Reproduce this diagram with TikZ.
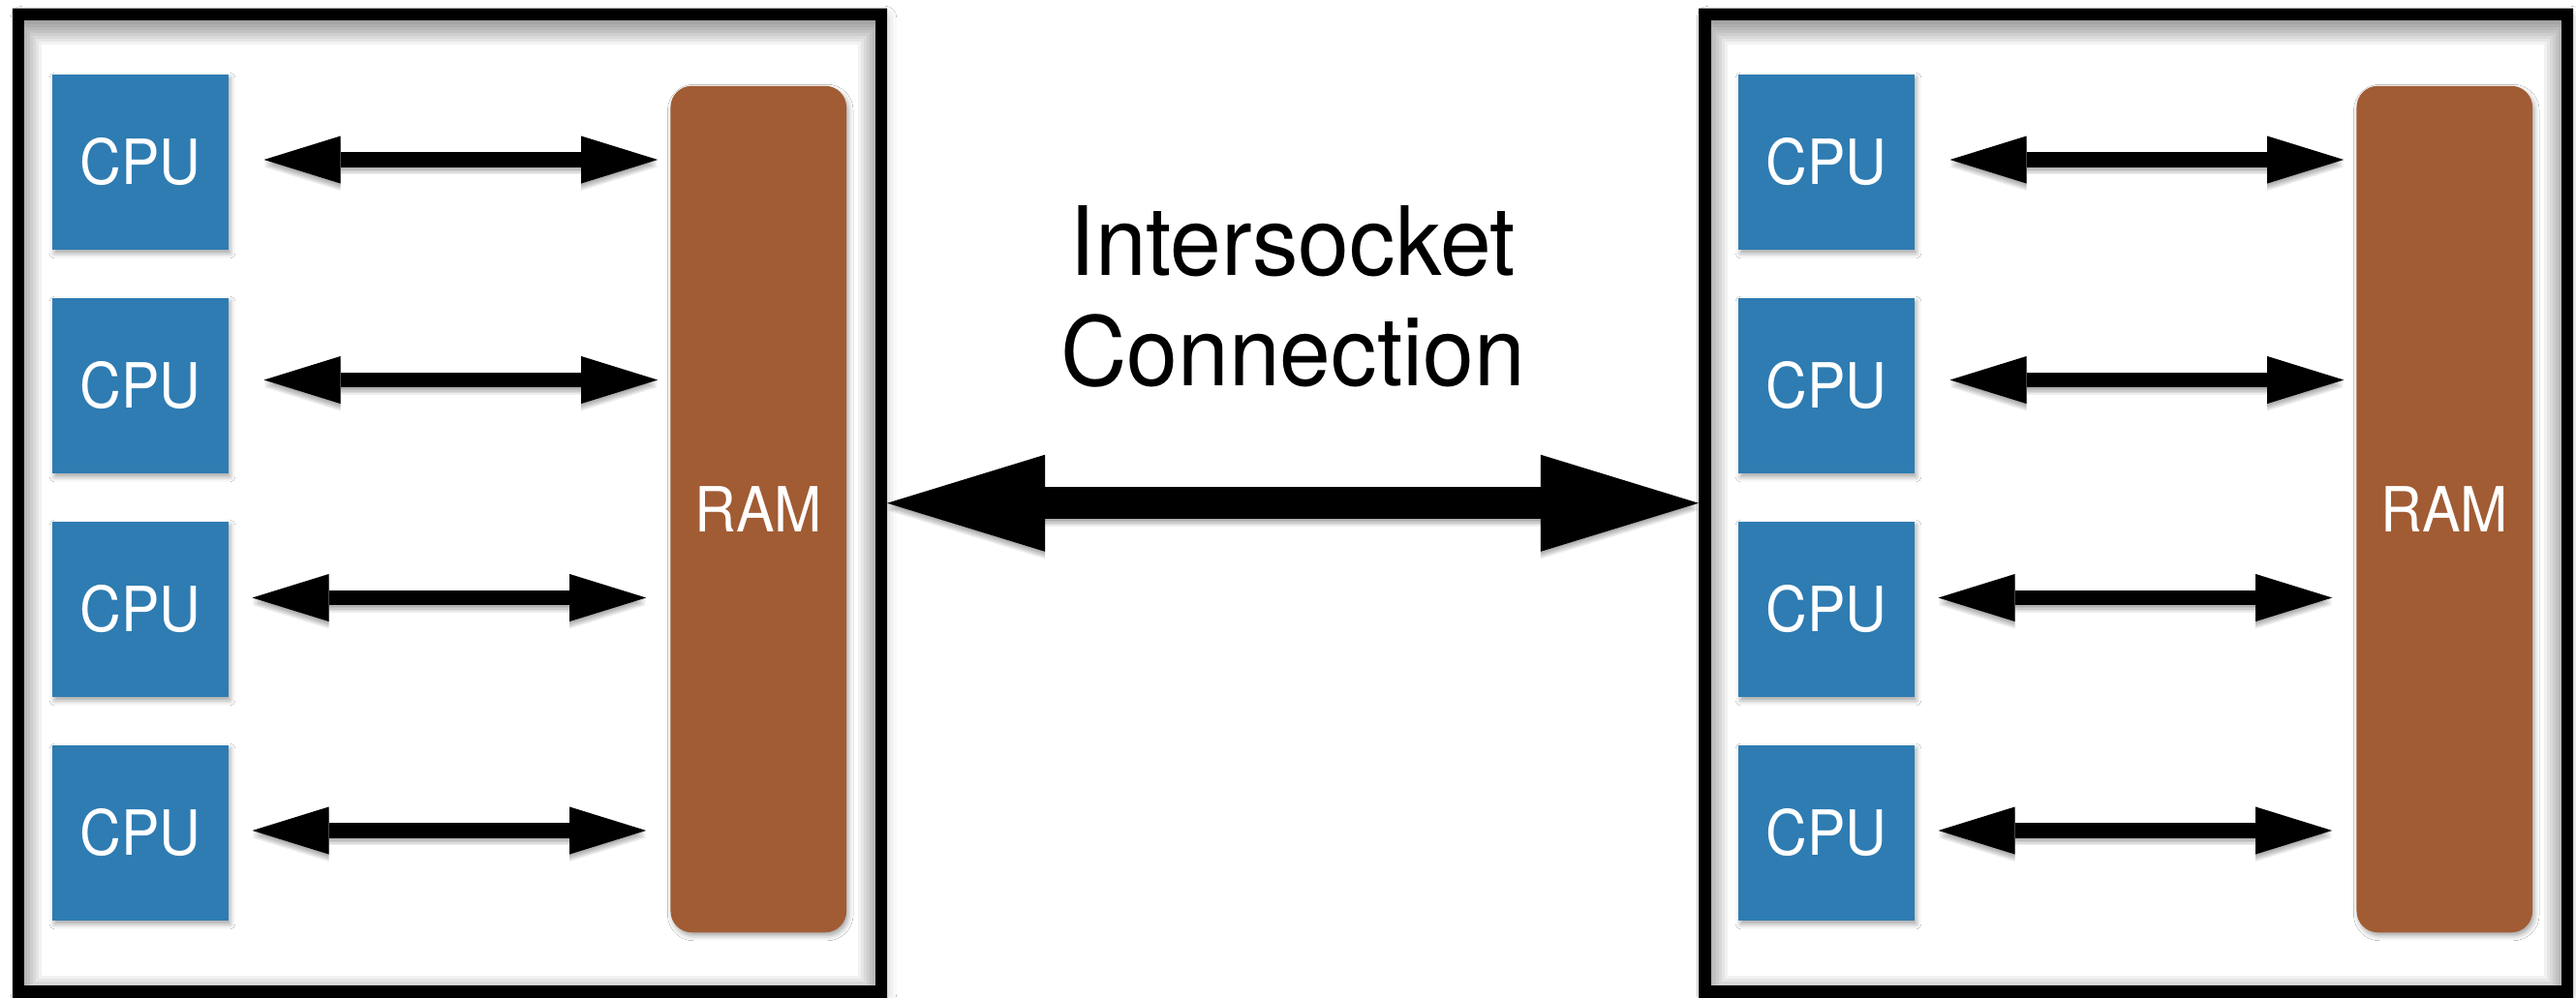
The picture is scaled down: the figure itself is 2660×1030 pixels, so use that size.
\documentclass[tikz,border=0pt]{standalone}
\usepackage{fontspec}
\newfontfamily\helvbox{TeX Gyre Heros}[FakeStretch=0.92]
\newfontfamily\helvtitle{TeX Gyre Heros}[FakeStretch=0.96]
\usetikzlibrary{arrows.meta,calc,shadows.blur}

\definecolor{cpublue}{RGB}{46,124,178}
\definecolor{ramsienna}{RGB}{161,92,52}

\tikzset{
  socket/.style={draw=black, fill=white, line width=0.125cm,
    minimum width=8.9cm, minimum height=10.085cm, inner sep=0pt,
    blur shadow={shadow xshift=0.04cm, shadow yshift=-0.03cm,
      shadow blur radius=0.12cm, shadow opacity=30}},
  cpu/.style={fill=cpublue, minimum size=1.815cm, inner sep=0pt, text=white,
    font=\helvbox\fontsize{18.3pt}{20pt}\selectfont,
    blur shadow={shadow xshift=0.02cm, shadow yshift=-0.035cm,
      shadow blur radius=0.05cm, shadow opacity=35}},
  ram/.style={fill=ramsienna, rounded corners=0.22cm, minimum width=1.815cm,
    minimum height=8.74cm, inner sep=0pt, text=white,
    font=\helvbox\fontsize{18.3pt}{20pt}\selectfont,
    blur shadow={shadow xshift=0.02cm, shadow yshift=-0.035cm,
      shadow blur radius=0.05cm, shadow opacity=35}},
  link/.style={line width=0.155cm,
    {Triangle[length=0.79cm,width=0.49cm,line width=0pt]}-{Triangle[length=0.79cm,width=0.49cm,line width=0pt]}},
  trunk/.style={line width=0.33cm,
    {Triangle[length=1.63cm,width=1.0cm,line width=0pt]}-{Triangle[length=1.63cm,width=1.0cm,line width=0pt]}},
  softshade/.style={opacity=0.07, transform canvas={yshift=-#1 cm}},
  caption/.style={align=center, inner sep=0pt,
    font=\helvtitle\fontsize{28.1pt}{32.4pt}\selectfont}
}

% core-to-memory link with a soft shadow underneath
% #1 core node, #2 memory node, #3 vertical offset, #4/#5 gaps at start/end
\newcommand\corelink[5]{%
  \foreach \sh in {0.015,0.03,0.045,0.06,0.075}
    \draw[link, softshade=\sh, shorten <=#4, shorten >=#5]
      ($(#1.east)+(0,#3)$) -- ($(#1.east -| #2.west)+(0,#3)$);
  \draw[link, shorten <=#4, shorten >=#5]
    ($(#1.east)+(0,#3)$) -- ($(#1.east -| #2.west)+(0,#3)$);
}

\begin{document}
\begin{tikzpicture}[x=0.01cm,y=-0.01cm]
  \useasboundingbox[fill=white] (0,0) rectangle (2660,1030);

  % two sockets, each a frame holding four cores and a memory bank
  \foreach \s/\dx in {1/0,2/1741}{
    \begin{scope}[shift={(\dx,0)}]
      \node[socket] (box\s) at (464.5,519.75) {};
      % soft inset shade along the inner edge of the frame
      \begin{scope}
        \clip (box\s.north west) rectangle (box\s.south east);
        \foreach \k in {1,...,10}
          \draw[black, opacity=0.05, line width={\k*0.06cm}]
            ([yshift=-0.07cm]box\s.north west) rectangle ([yshift=-0.07cm]box\s.south east);
      \end{scope}
      \node[ram] (ram\s) at (783.25,526) {RAM};
      \foreach \i/\y in {1/167.5,2/398.5,3/629.5,4/860.5}
        \node[cpu] (cpu\s\i) at (145,\y) {CPU};
    \end{scope}
  }

  % core <-> memory links
  \foreach \s in {1,2}{
    \corelink{cpu\s1}{ram\s}{-2.5}{0.36cm}{0.125cm}
    \corelink{cpu\s2}{ram\s}{-6}{0.36cm}{0.125cm}
    \corelink{cpu\s3}{ram\s}{-12}{0.24cm}{0.245cm}
    \corelink{cpu\s4}{ram\s}{-2.5}{0.24cm}{0.245cm}
  }

  % link between the two sockets
  \foreach \sh in {0.015,0.03,0.045,0.06,0.075}
    \draw[trunk, softshade=\sh] (box1.east) -- (box2.west);
  \draw[trunk] (box1.east) -- (box2.west);
  \node[caption] (label) at (1335,306.5) {Intersocket\\Connection};
\end{tikzpicture}
\end{document}
